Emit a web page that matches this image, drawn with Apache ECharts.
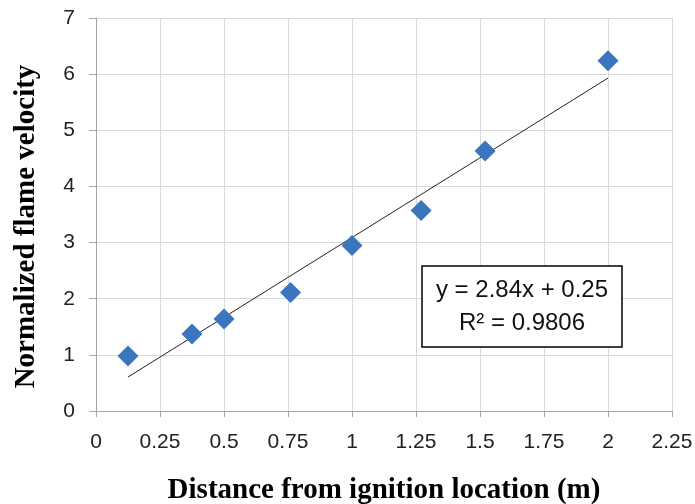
<!DOCTYPE html>
<html>
<head>
<meta charset="utf-8">
<script src="https://cdn.jsdelivr.net/npm/echarts@6/dist/echarts.min.js"></script>
<style>
  html, body { margin: 0; padding: 0; background: #fff; }
  #chart { width: 695px; height: 504px; }
</style>
</head>
<body>
<div id="chart"></div>
<script>
// Measured flame velocity vs. distance from the ignition point
const distance = [0.125, 0.375, 0.5, 0.76, 1.0, 1.27, 1.52, 2.0];
const velocity = [0.98, 1.37, 1.64, 2.11, 2.95, 3.57, 4.63, 6.24];

// Linear fit: y = slope * x + intercept
const slope = 2.84;
const intercept = 0.25;
const rSquared = 0.9806;
const fitRange = [0.125, 2.0];

const xTicks = { min: 0, max: 2.25, interval: 0.25 };
const yTicks = { min: 0, max: 7, interval: 1 };

const fitLine = fitRange.map(x => [x, slope * x + intercept]);
const points = distance.map((x, i) => [x, velocity[i]]);

const chart = echarts.init(document.getElementById('chart'), null, { renderer: 'canvas' });

const labelFont = { fontFamily: 'Liberation Sans', fontSize: 21, color: '#222' };
const titleFont = { fontFamily: 'Liberation Serif', fontWeight: 'bold', fontSize: 29, color: '#000' };

chart.setOption({
  animation: false,
  grid: {
    left: 96, right: 23, top: 18, bottom: 93,
    containLabel: false,
    outerBoundsMode: 'none'
  },
  xAxis: {
    type: 'value',
    min: xTicks.min, max: xTicks.max, interval: xTicks.interval,
    name: 'Distance from ignition location (m)',
    nameLocation: 'middle',
    nameGap: 65,
    nameTextStyle: titleFont,
    axisLine: { lineStyle: { color: '#a6a6a6', width: 1 } },
    axisTick: { show: true, inside: false, length: 6, lineStyle: { color: '#a6a6a6' } },
    axisLabel: Object.assign({ margin: 21, formatter: v => String(v) }, labelFont),
    splitLine: { show: true, lineStyle: { color: '#d9d9d9', width: 1 } }
  },
  yAxis: {
    type: 'value',
    min: yTicks.min, max: yTicks.max, interval: yTicks.interval,
    name: 'Normalized flame velocity',
    nameLocation: 'middle',
    nameGap: 55,
    nameTextStyle: Object.assign({ padding: [0, 24, 0, 0] }, titleFont),
    axisLine: { show: true, lineStyle: { color: '#a6a6a6', width: 1 } },
    axisTick: { show: true, inside: false, length: 7, lineStyle: { color: '#a6a6a6' } },
    axisLabel: Object.assign({ margin: 21 }, labelFont),
    splitLine: { show: true, lineStyle: { color: '#d9d9d9', width: 1 } }
  },
  series: [
    {
      name: 'fit',
      type: 'line',
      data: fitLine,
      showSymbol: false,
      symbol: 'none',
      lineStyle: { color: '#222', width: 1 },
      z: 3
    },
    {
      name: 'measured',
      type: 'scatter',
      data: points,
      symbol: 'diamond',
      symbolSize: [21, 21],
      itemStyle: { color: '#3a75bd', opacity: 1 },
      z: 4
    }
  ],
  graphic: [
    {
      type: 'rect',
      z: 100,
      shape: { x: 422, y: 266, width: 200, height: 81 },
      style: { fill: '#fff', stroke: '#000', lineWidth: 1.5 }
    },
    {
      type: 'text',
      z: 101,
      style: {
        x: 522, y: 290,
        text: 'y = ' + slope.toFixed(2) + 'x + ' + intercept.toFixed(2),
        fontFamily: 'Liberation Sans', fontSize: 24, fill: '#111',
        align: 'center', verticalAlign: 'middle'
      }
    },
    {
      type: 'text',
      z: 101,
      style: {
        x: 522, y: 323,
        text: 'R² = ' + rSquared.toFixed(4),
        fontFamily: 'Liberation Sans', fontSize: 24, fill: '#111',
        align: 'center', verticalAlign: 'middle'
      }
    }
  ]
});
</script>
</body>
</html>
